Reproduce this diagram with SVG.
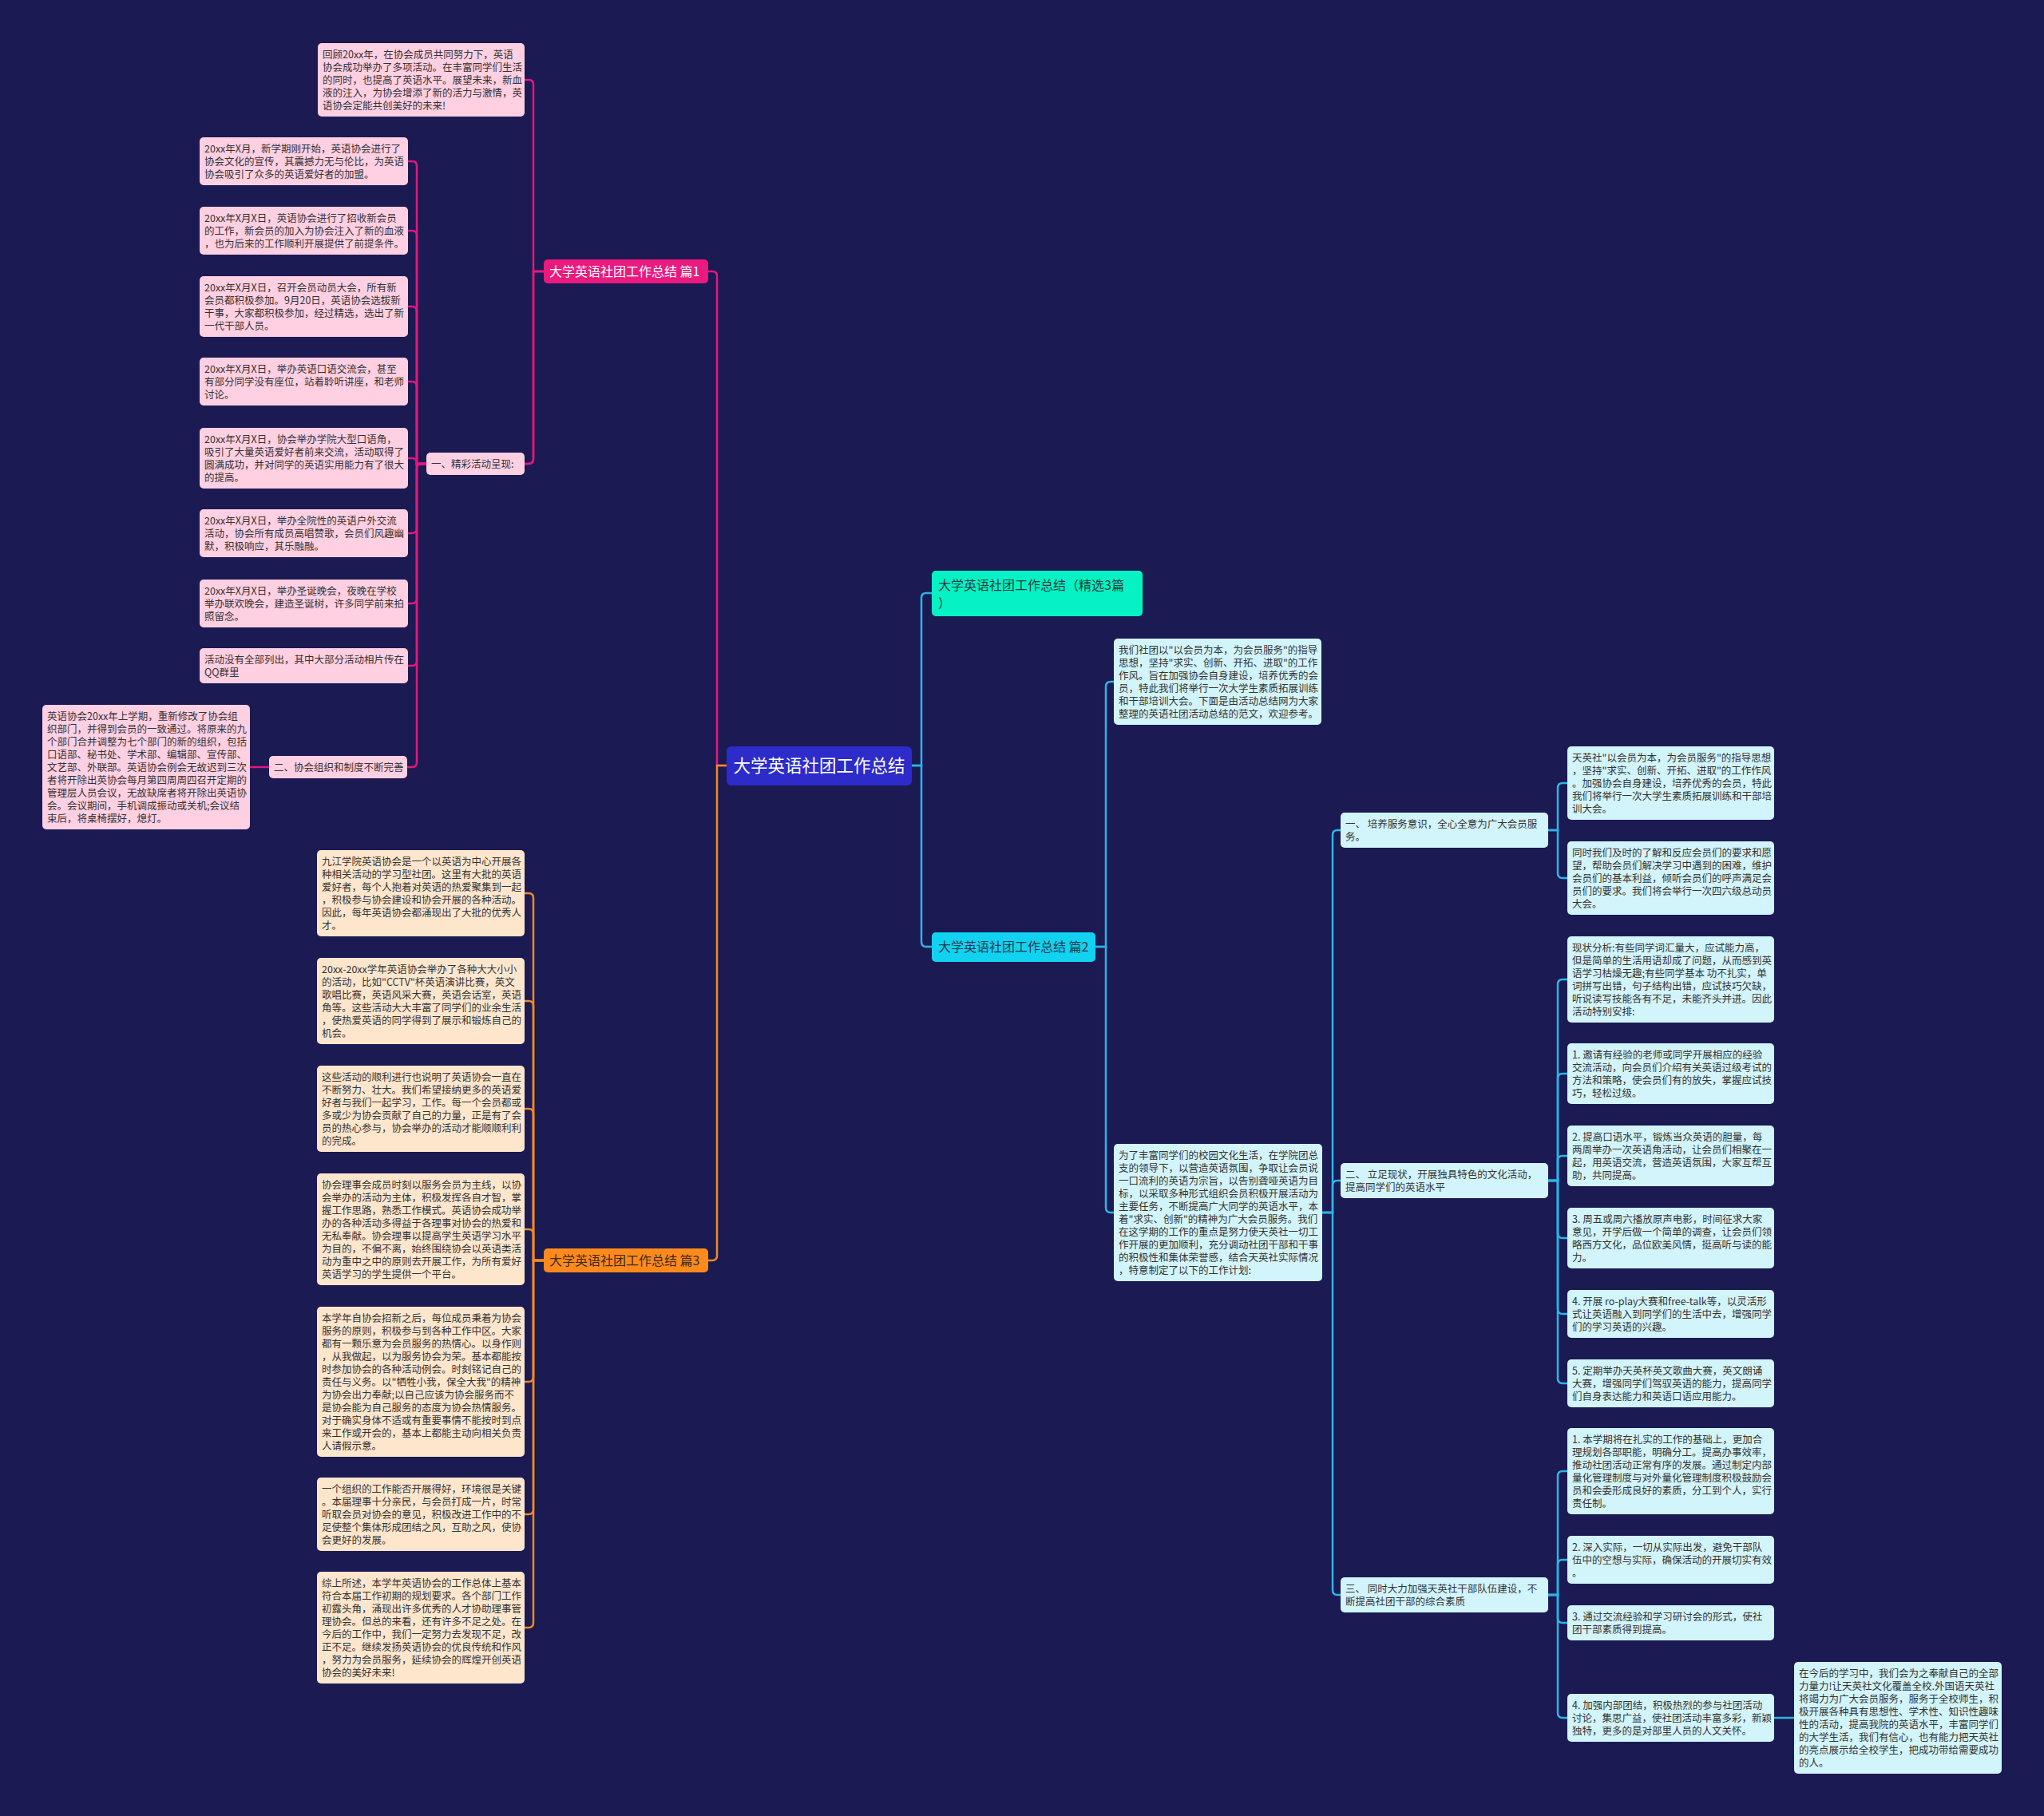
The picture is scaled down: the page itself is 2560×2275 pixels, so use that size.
<svg xmlns="http://www.w3.org/2000/svg" width="2560" height="2275" viewBox="0 0 2560 2275">
<style>
text{font-family:"Noto Sans CJK SC","Noto Sans",sans-serif;}
.t{font-size:12.5px;fill:#333333;}
.l1{font-size:16px;}
.cp{fill:none;stroke:#e5177c;stroke-width:2.5}
.co{fill:none;stroke:#f08a24;stroke-width:2.5}
.cc{fill:none;stroke:#2bb5e6;stroke-width:2.5}
.np{fill:#ffcfe2}
.no{fill:#fee6cd}
.nc{fill:#d2f4fb}
</style>
<rect width="2560" height="2275" fill="#1b1a53"/>
<g id="connectors">
<path class="cp" d="M681,340H668V106Q668,100 662,100H657"/>
<path class="cp" d="M681,340H668V575Q668,581 662,581H657"/>
<path class="cp" d="M681,340H668V575Q668,581 662,581H528Q522,581 522,587V955Q522,961 516,961H510"/>
<path class="cp" d="M534,581H522V208Q522,202 516,202H511"/>
<path class="cp" d="M534,581H522V295Q522,289 516,289H511"/>
<path class="cp" d="M534,581H522V390Q522,384 516,384H511"/>
<path class="cp" d="M534,581H522V484Q522,478 516,478H511"/>
<path class="cp" d="M534,581H522V580Q522,574 516,574H511"/>
<path class="cp" d="M534,581H522V662Q522,668 516,668H511"/>
<path class="cp" d="M534,581H522V750Q522,756 516,756H511"/>
<path class="cp" d="M534,581H522V828Q522,834 516,834H511"/>
<path class="cp" d="M337,961H313"/>
<path class="co" d="M681,1579H668V1125Q668,1119 662,1119H657"/>
<path class="co" d="M681,1579H668V1260Q668,1254 662,1254H657"/>
<path class="co" d="M681,1579H668V1395Q668,1389 662,1389H657"/>
<path class="co" d="M681,1579H668V1546Q668,1540 662,1540H657"/>
<path class="co" d="M681,1579H668V1725Q668,1731 662,1731H657"/>
<path class="co" d="M681,1579H668V1891Q668,1897 662,1897H657"/>
<path class="co" d="M681,1579H668V2033Q668,2039 662,2039H657"/>
<path class="cp" d="M910,959H898V346Q898,340 892,340H887"/>
<path class="co" d="M910,959H898V1573Q898,1579 892,1579H887"/>
<path class="cc" d="M1142,959H1154V749Q1154,743 1160,743H1167"/>
<path class="cc" d="M1142,959H1154V1180Q1154,1186 1160,1186H1167"/>
<path class="cc" d="M1372,1186H1385V860Q1385,854 1391,854H1395"/>
<path class="cc" d="M1372,1186H1385V1513Q1385,1519 1391,1519H1395"/>
<path class="cc" d="M1656,1519H1669V1046Q1669,1040 1675,1040H1679"/>
<path class="cc" d="M1656,1519H1669V1485Q1669,1479 1675,1479H1679"/>
<path class="cc" d="M1656,1519H1669V1992Q1669,1998 1675,1998H1679"/>
<path class="cc" d="M1939,1040H1951V987Q1951,981 1957,981H1963"/>
<path class="cc" d="M1939,1040H1951V1094Q1951,1100 1957,1100H1963"/>
<path class="cc" d="M1939,1479H1951V1233Q1951,1227 1957,1227H1963"/>
<path class="cc" d="M1939,1479H1951V1351Q1951,1345 1957,1345H1963"/>
<path class="cc" d="M1939,1479H1951V1454Q1951,1448 1957,1448H1963"/>
<path class="cc" d="M1939,1479H1951V1545Q1951,1551 1957,1551H1963"/>
<path class="cc" d="M1939,1479H1951V1640Q1951,1646 1957,1646H1963"/>
<path class="cc" d="M1939,1479H1951V1727Q1951,1733 1957,1733H1963"/>
<path class="cc" d="M1939,1998H1951V1849Q1951,1843 1957,1843H1963"/>
<path class="cc" d="M1939,1998H1951V1960Q1951,1954 1957,1954H1963"/>
<path class="cc" d="M1939,1998H1951V2027Q1951,2033 1957,2033H1963"/>
<path class="cc" d="M1939,1998H1951V2146Q1951,2152 1957,2152H1963"/>
<path class="cc" d="M2222,2152H2247"/>
</g>

<g id="root"><rect x="910" y="935" width="232" height="49" rx="6" fill="#2d2bc9"/><text x="1026" y="967" font-size="21.5" fill="#ffffff" text-anchor="middle">大学英语社团工作总结</text></g>

<g id="p1"><rect x="681" y="325" width="206" height="30" rx="5" fill="#ea1a7e"/><text class="l1" x="688" y="346" fill="#ffffff">大学英语社团工作总结 篇1</text></g>
<g id="p3"><rect x="681" y="1564" width="206" height="30" rx="5" fill="#ff8a1c"/><text class="l1" x="688" y="1585" fill="#3a2a1a">大学英语社团工作总结 篇3</text></g>
<g id="sel"><rect x="1167" y="715" width="264" height="57" rx="5" fill="#06f2c4"/><text class="l1" x="1175" y="739" fill="#1f3a3a">大学英语社团工作总结（精选3篇<tspan x="1175" dy="22">）</tspan></text></g>
<g id="p2"><rect x="1167" y="1168" width="205" height="37" rx="5" fill="#12d2f2"/><text class="l1" x="1175" y="1192" fill="#1f3a4a">大学英语社团工作总结 篇2</text></g>

<g id="p1-top"><rect class="np" x="398" y="54" width="259" height="92" rx="5"/><text class="t" x="404" y="72.5">回顾20xx年，在协会成员共同努力下，英语<tspan x="404" dy="16">协会成功举办了多项活动。在丰富同学们生活</tspan><tspan x="404" dy="16">的同时，也提高了英语水平。展望未来，新血</tspan><tspan x="404" dy="16">液的注入，为协会增添了新的活力与激情，英</tspan><tspan x="404" dy="16">语协会定能共创美好的未来!</tspan></text></g>
<g id="p1-s1"><rect class="np" x="534" y="567" width="123" height="28" rx="5"/><text class="t" x="540" y="585.5">一、精彩活动呈现:</text></g>
<g id="p1-b1"><rect class="np" x="250" y="172" width="261" height="60" rx="5"/><text class="t" x="256" y="190.5">20xx年X月，新学期刚开始，英语协会进行了<tspan x="256" dy="16">协会文化的宣传，其震撼力无与伦比，为英语</tspan><tspan x="256" dy="16">协会吸引了众多的英语爱好者的加盟。</tspan></text></g>
<g id="p1-b2"><rect class="np" x="250" y="259" width="261" height="60" rx="5"/><text class="t" x="256" y="277.5">20xx年X月X日，英语协会进行了招收新会员<tspan x="256" dy="16">的工作，新会员的加入为协会注入了新的血液</tspan><tspan x="256" dy="16">，也为后来的工作顺利开展提供了前提条件。</tspan></text></g>
<g id="p1-b3"><rect class="np" x="250" y="346" width="261" height="76" rx="5"/><text class="t" x="256" y="364.5">20xx年X月X日，召开会员动员大会，所有新<tspan x="256" dy="16">会员都积极参加。9月20日，英语协会选拔新</tspan><tspan x="256" dy="16">干事，大家都积极参加，经过精选，选出了新</tspan><tspan x="256" dy="16">一代干部人员。</tspan></text></g>
<g id="p1-b4"><rect class="np" x="250" y="448" width="261" height="60" rx="5"/><text class="t" x="256" y="466.5">20xx年X月X日，举办英语口语交流会，甚至<tspan x="256" dy="16">有部分同学没有座位，站着聆听讲座，和老师</tspan><tspan x="256" dy="16">讨论。</tspan></text></g>
<g id="p1-b5"><rect class="np" x="250" y="536" width="261" height="76" rx="5"/><text class="t" x="256" y="554.5">20xx年X月X日，协会举办学院大型口语角，<tspan x="256" dy="16">吸引了大量英语爱好者前来交流，活动取得了</tspan><tspan x="256" dy="16">圆满成功，并对同学的英语实用能力有了很大</tspan><tspan x="256" dy="16">的提高。</tspan></text></g>
<g id="p1-b6"><rect class="np" x="250" y="638" width="261" height="60" rx="5"/><text class="t" x="256" y="656.5">20xx年X月X日，举办全院性的英语户外交流<tspan x="256" dy="16">活动，协会所有成员高唱赞歌，会员们风趣幽</tspan><tspan x="256" dy="16">默，积极响应，其乐融融。</tspan></text></g>
<g id="p1-b7"><rect class="np" x="250" y="726" width="261" height="60" rx="5"/><text class="t" x="256" y="744.5">20xx年X月X日，举办圣诞晚会，夜晚在学校<tspan x="256" dy="16">举办联欢晚会，建造圣诞树，许多同学前来拍</tspan><tspan x="256" dy="16">照留念。</tspan></text></g>
<g id="p1-b8"><rect class="np" x="250" y="812" width="261" height="44" rx="5"/><text class="t" x="256" y="830.5">活动没有全部列出，其中大部分活动相片传在<tspan x="256" dy="16">QQ群里</tspan></text></g>
<g id="p1-s2"><rect class="np" x="337" y="947" width="173" height="28" rx="5"/><text class="t" x="343" y="965.5">二、协会组织和制度不断完善</text></g>
<g id="p1-s2-n"><rect class="np" x="53" y="883" width="260" height="156" rx="5"/><text class="t" x="59" y="901.5">英语协会20xx年上学期，重新修改了协会组<tspan x="59" dy="16">织部门，并得到会员的一致通过。将原来的九</tspan><tspan x="59" dy="16">个部门合并调整为七个部门的新的组织，包括</tspan><tspan x="59" dy="16">口语部、秘书处、学术部、编辑部、宣传部、</tspan><tspan x="59" dy="16">文艺部、外联部。英语协会例会无故迟到三次</tspan><tspan x="59" dy="16">者将开除出英协会每月第四周周四召开定期的</tspan><tspan x="59" dy="16">管理层人员会议，无故缺席者将开除出英语协</tspan><tspan x="59" dy="16">会。会议期间，手机调成振动或关机;会议结</tspan><tspan x="59" dy="16">束后，将桌椅摆好，熄灯。</tspan></text></g>

<g id="p3-a"><rect class="no" x="397" y="1065" width="260" height="108" rx="5"/><text class="t" x="403" y="1083.5">九江学院英语协会是一个以英语为中心开展各<tspan x="403" dy="16">种相关活动的学习型社团。这里有大批的英语</tspan><tspan x="403" dy="16">爱好者，每个人抱着对英语的热爱聚集到一起</tspan><tspan x="403" dy="16">，积极参与协会建设和协会开展的各种活动。</tspan><tspan x="403" dy="16">因此，每年英语协会都涌现出了大批的优秀人</tspan><tspan x="403" dy="16">才。</tspan></text></g>
<g id="p3-b"><rect class="no" x="397" y="1200" width="260" height="108" rx="5"/><text class="t" x="403" y="1218.5">20xx-20xx学年英语协会举办了各种大大小小<tspan x="403" dy="16">的活动，比如"CCTV"杯英语演讲比赛，英文</tspan><tspan x="403" dy="16">歌唱比赛，英语风采大赛，英语会话室，英语</tspan><tspan x="403" dy="16">角等。这些活动大大丰富了同学们的业余生活</tspan><tspan x="403" dy="16">，使热爱英语的同学得到了展示和锻炼自己的</tspan><tspan x="403" dy="16">机会。</tspan></text></g>
<g id="p3-c"><rect class="no" x="397" y="1335" width="260" height="108" rx="5"/><text class="t" x="403" y="1353.5">这些活动的顺利进行也说明了英语协会一直在<tspan x="403" dy="16">不断努力、壮大。我们希望接纳更多的英语爱</tspan><tspan x="403" dy="16">好者与我们一起学习，工作。每一个会员都或</tspan><tspan x="403" dy="16">多或少为协会贡献了自己的力量，正是有了会</tspan><tspan x="403" dy="16">员的热心参与，协会举办的活动才能顺顺利利</tspan><tspan x="403" dy="16">的完成。</tspan></text></g>
<g id="p3-d"><rect class="no" x="397" y="1470" width="260" height="140" rx="5"/><text class="t" x="403" y="1488.5">协会理事会成员时刻以服务会员为主线，以协<tspan x="403" dy="16">会举办的活动为主体，积极发挥各自才智，掌</tspan><tspan x="403" dy="16">握工作思路，熟悉工作模式。英语协会成功举</tspan><tspan x="403" dy="16">办的各种活动多得益于各理事对协会的热爱和</tspan><tspan x="403" dy="16">无私奉献。协会理事以提高学生英语学习水平</tspan><tspan x="403" dy="16">为目的，不偏不离，始终围绕协会以英语类活</tspan><tspan x="403" dy="16">动为重中之中的原则去开展工作，为所有爱好</tspan><tspan x="403" dy="16">英语学习的学生提供一个平台。</tspan></text></g>
<g id="p3-e"><rect class="no" x="397" y="1637" width="260" height="188" rx="5"/><text class="t" x="403" y="1655.5">本学年自协会招新之后，每位成员秉着为协会<tspan x="403" dy="16">服务的原则，积极参与到各种工作中区。大家</tspan><tspan x="403" dy="16">都有一颗乐意为会员服务的热情心。以身作则</tspan><tspan x="403" dy="16">，从我做起，以为服务协会为荣。基本都能按</tspan><tspan x="403" dy="16">时参加协会的各种活动例会。时刻铭记自己的</tspan><tspan x="403" dy="16">责任与义务。以"牺牲小我，保全大我"的精神</tspan><tspan x="403" dy="16">为协会出力奉献;以自己应该为协会服务而不</tspan><tspan x="403" dy="16">是协会能为自己服务的态度为协会热情服务。</tspan><tspan x="403" dy="16">对于确实身体不适或有重要事情不能按时到点</tspan><tspan x="403" dy="16">来工作或开会的，基本上都能主动向相关负责</tspan><tspan x="403" dy="16">人请假示意。</tspan></text></g>
<g id="p3-f"><rect class="no" x="397" y="1851" width="260" height="92" rx="5"/><text class="t" x="403" y="1869.5">一个组织的工作能否开展得好，环境很是关键<tspan x="403" dy="16">。本届理事十分亲民，与会员打成一片，时常</tspan><tspan x="403" dy="16">听取会员对协会的意见，积极改进工作中的不</tspan><tspan x="403" dy="16">足使整个集体形成团结之风，互助之风，使协</tspan><tspan x="403" dy="16">会更好的发展。</tspan></text></g>
<g id="p3-g"><rect class="no" x="397" y="1969" width="260" height="140" rx="5"/><text class="t" x="403" y="1987.5">综上所述，本学年英语协会的工作总体上基本<tspan x="403" dy="16">符合本届工作初期的规划要求。各个部门工作</tspan><tspan x="403" dy="16">初露头角，涌现出许多优秀的人才协助理事管</tspan><tspan x="403" dy="16">理协会。但总的来看，还有许多不足之处。在</tspan><tspan x="403" dy="16">今后的工作中，我们一定努力去发现不足，改</tspan><tspan x="403" dy="16">正不足。继续发扬英语协会的优良传统和作风</tspan><tspan x="403" dy="16">，努力为会员服务，延续协会的辉煌开创英语</tspan><tspan x="403" dy="16">协会的美好未来!</tspan></text></g>

<g id="p2-intro"><rect class="nc" x="1395" y="800" width="260" height="108" rx="5"/><text class="t" x="1401" y="818.5">我们社团以"以会员为本，为会员服务"的指导<tspan x="1401" dy="16">思想，坚持"求实、创新、开拓、进取"的工作</tspan><tspan x="1401" dy="16">作风。旨在加强协会自身建设，培养优秀的会</tspan><tspan x="1401" dy="16">员，特此我们将举行一次大学生素质拓展训练</tspan><tspan x="1401" dy="16">和干部培训大会。下面是由活动总结网为大家</tspan><tspan x="1401" dy="16">整理的英语社团活动总结的范文，欢迎参考。</tspan></text></g>
<g id="p2-main"><rect class="nc" x="1395" y="1433" width="261" height="172" rx="5"/><text class="t" x="1401" y="1451.5">为了丰富同学们的校园文化生活，在学院团总<tspan x="1401" dy="16">支的领导下，以营造英语氛围，争取让会员说</tspan><tspan x="1401" dy="16">一口流利的英语为宗旨，以告别聋哑英语为目</tspan><tspan x="1401" dy="16">标，以采取多种形式组织会员积极开展活动为</tspan><tspan x="1401" dy="16">主要任务，不断提高广大同学的英语水平，本</tspan><tspan x="1401" dy="16">着"求实、创新"的精神为广大会员服务。我们</tspan><tspan x="1401" dy="16">在这学期的工作的重点是努力使天英社一切工</tspan><tspan x="1401" dy="16">作开展的更加顺利，充分调动社团干部和干事</tspan><tspan x="1401" dy="16">的积极性和集体荣誉感，结合天英社实际情况</tspan><tspan x="1401" dy="16">，特意制定了以下的工作计划:</tspan></text></g>

<g id="r1"><rect class="nc" x="1679" y="1018" width="260" height="44" rx="5"/><text class="t" x="1685" y="1036.5">一、 培养服务意识，全心全意为广大会员服<tspan x="1685" dy="16">务。</tspan></text></g>
<g id="r1-a"><rect class="nc" x="1963" y="935" width="259" height="92" rx="5"/><text class="t" x="1969" y="953.5">天英社"以会员为本，为会员服务"的指导思想<tspan x="1969" dy="16">，坚持"求实、创新、开拓、进取"的工作作风</tspan><tspan x="1969" dy="16">。加强协会自身建设，培养优秀的会员，特此</tspan><tspan x="1969" dy="16">我们将举行一次大学生素质拓展训练和干部培</tspan><tspan x="1969" dy="16">训大会。</tspan></text></g>
<g id="r1-b"><rect class="nc" x="1963" y="1054" width="259" height="92" rx="5"/><text class="t" x="1969" y="1072.5">同时我们及时的了解和反应会员们的要求和愿<tspan x="1969" dy="16">望，帮助会员们解决学习中遇到的困难，维护</tspan><tspan x="1969" dy="16">会员们的基本利益，倾听会员们的呼声满足会</tspan><tspan x="1969" dy="16">员们的要求。我们将会举行一次四六级总动员</tspan><tspan x="1969" dy="16">大会。</tspan></text></g>

<g id="r2"><rect class="nc" x="1679" y="1457" width="260" height="44" rx="5"/><text class="t" x="1685" y="1475.5">二、 立足现状，开展独具特色的文化活动，<tspan x="1685" dy="16">提高同学们的英语水平</tspan></text></g>
<g id="r2-0"><rect class="nc" x="1963" y="1173" width="259" height="108" rx="5"/><text class="t" x="1969" y="1191.5">现状分析:有些同学词汇量大，应试能力高，<tspan x="1969" dy="16">但是简单的生活用语却成了问题，从而感到英</tspan><tspan x="1969" dy="16">语学习枯燥无趣;有些同学基本 功不扎实，单</tspan><tspan x="1969" dy="16">词拼写出错，句子结构出错，应试技巧欠缺，</tspan><tspan x="1969" dy="16">听说读写技能各有不足，未能齐头并进。因此</tspan><tspan x="1969" dy="16">活动特别安排:</tspan></text></g>
<g id="r2-1"><rect class="nc" x="1963" y="1307" width="259" height="76" rx="5"/><text class="t" x="1969" y="1325.5">1. 邀请有经验的老师或同学开展相应的经验<tspan x="1969" dy="16">交流活动，向会员们介绍有关英语过级考试的</tspan><tspan x="1969" dy="16">方法和策略，使会员们有的放失，掌握应试技</tspan><tspan x="1969" dy="16">巧，轻松过级。</tspan></text></g>
<g id="r2-2"><rect class="nc" x="1963" y="1410" width="259" height="76" rx="5"/><text class="t" x="1969" y="1428.5">2. 提高口语水平，锻炼当众英语的胆量，每<tspan x="1969" dy="16">两周举办一次英语角活动，让会员们相聚在一</tspan><tspan x="1969" dy="16">起，用英语交流，营造英语氛围，大家互帮互</tspan><tspan x="1969" dy="16">助，共同提高。</tspan></text></g>
<g id="r2-3"><rect class="nc" x="1963" y="1513" width="259" height="76" rx="5"/><text class="t" x="1969" y="1531.5">3. 周五或周六播放原声电影，时间征求大家<tspan x="1969" dy="16">意见，开学后做一个简单的调查，让会员们领</tspan><tspan x="1969" dy="16">略西方文化，品位欧美风情，挺高听与读的能</tspan><tspan x="1969" dy="16">力。</tspan></text></g>
<g id="r2-4"><rect class="nc" x="1963" y="1616" width="259" height="60" rx="5"/><text class="t" x="1969" y="1634.5">4. 开展 ro-play大赛和free-talk等，以灵活形<tspan x="1969" dy="16">式让英语融入到同学们的生活中去，增强同学</tspan><tspan x="1969" dy="16">们的学习英语的兴趣。</tspan></text></g>
<g id="r2-5"><rect class="nc" x="1963" y="1703" width="259" height="60" rx="5"/><text class="t" x="1969" y="1721.5">5. 定期举办天英杯英文歌曲大赛，英文朗诵<tspan x="1969" dy="16">大赛，增强同学们驾驭英语的能力，提高同学</tspan><tspan x="1969" dy="16">们自身表达能力和英语口语应用能力。</tspan></text></g>

<g id="r3"><rect class="nc" x="1679" y="1976" width="260" height="44" rx="5"/><text class="t" x="1685" y="1994.5">三、 同时大力加强天英社干部队伍建设，不<tspan x="1685" dy="16">断提高社团干部的综合素质</tspan></text></g>
<g id="r3-1"><rect class="nc" x="1963" y="1789" width="259" height="108" rx="5"/><text class="t" x="1969" y="1807.5">1. 本学期将在扎实的工作的基础上，更加合<tspan x="1969" dy="16">理规划各部职能，明确分工。提高办事效率，</tspan><tspan x="1969" dy="16">推动社团活动正常有序的发展。通过制定内部</tspan><tspan x="1969" dy="16">量化管理制度与对外量化管理制度积极鼓励会</tspan><tspan x="1969" dy="16">员和会委形成良好的素质，分工到个人，实行</tspan><tspan x="1969" dy="16">责任制。</tspan></text></g>
<g id="r3-2"><rect class="nc" x="1963" y="1924" width="259" height="60" rx="5"/><text class="t" x="1969" y="1942.5">2. 深入实际，一切从实际出发，避免干部队<tspan x="1969" dy="16">伍中的空想与实际，确保活动的开展切实有效</tspan><tspan x="1969" dy="16">。</tspan></text></g>
<g id="r3-3"><rect class="nc" x="1963" y="2011" width="259" height="44" rx="5"/><text class="t" x="1969" y="2029.5">3. 通过交流经验和学习研讨会的形式，使社<tspan x="1969" dy="16">团干部素质得到提高。</tspan></text></g>
<g id="r3-4"><rect class="nc" x="1963" y="2122" width="259" height="60" rx="5"/><text class="t" x="1969" y="2140.5">4. 加强内部团结，积极热烈的参与社团活动<tspan x="1969" dy="16">讨论，集思广益，使社团活动丰富多彩，新颖</tspan><tspan x="1969" dy="16">独特，更多的是对部里人员的人文关怀。</tspan></text></g>
<g id="r3-4-n"><rect class="nc" x="2247" y="2082" width="260" height="140" rx="5"/><text class="t" x="2253" y="2100.5">在今后的学习中，我们会为之奉献自己的全部<tspan x="2253" dy="16">力量力!让天英社文化覆盖全校.外国语天英社</tspan><tspan x="2253" dy="16">将竭力为广大会员服务，服务于全校师生，积</tspan><tspan x="2253" dy="16">极开展各种具有思想性、学术性、知识性趣味</tspan><tspan x="2253" dy="16">性的活动，提高我院的英语水平，丰富同学们</tspan><tspan x="2253" dy="16">的大学生活，我们有信心，也有能力把天英社</tspan><tspan x="2253" dy="16">的亮点展示给全校学生，把成功带给需要成功</tspan><tspan x="2253" dy="16">的人。</tspan></text></g>
</svg>
